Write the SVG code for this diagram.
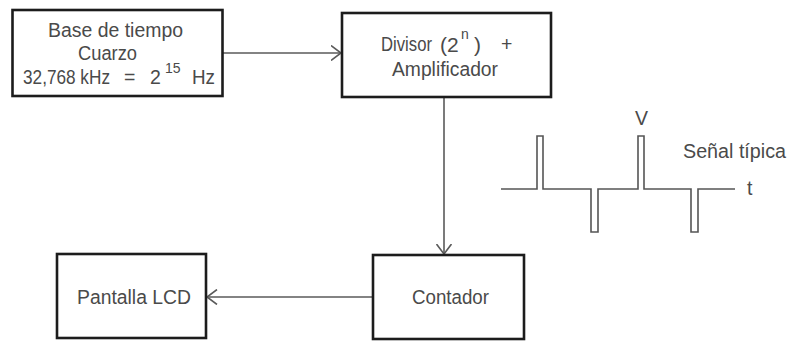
<svg xmlns="http://www.w3.org/2000/svg" width="788" height="341" viewBox="0 0 788 341">
<style>
.box{fill:#fff;stroke:#1c1c1c;stroke-width:2.6}
.t{font-family:"Liberation Sans",Arial,sans-serif;font-size:19.5px;fill:#4a4a4a}
.sup{font-size:14px}
.big{font-size:21px}
.conn{fill:none;stroke:#5a5a5a;stroke-width:1.6}
.sig{fill:none;stroke:#555;stroke-width:1.6}
</style>
<defs>
<marker id="arr" viewBox="0 0 11 16" refX="10.5" refY="8" markerWidth="11" markerHeight="16" markerUnits="userSpaceOnUse" orient="auto">
<path d="M0.5,0.5 L10.5,8 L0.5,15.5" fill="none" stroke="#5a5a5a" stroke-width="1.6"/>
</marker>
</defs>
<rect width="788" height="341" fill="#fff"/>
<g id="connectors">
<line class="conn" x1="223" y1="53" x2="341" y2="53" marker-end="url(#arr)"/>
<line class="conn" x1="444" y1="98" x2="444" y2="254" marker-end="url(#arr)"/>
<line class="conn" x1="372" y1="297" x2="207" y2="297" marker-end="url(#arr)"/>
</g>
<g id="base">
<rect class="box" x="12.5" y="10" width="210" height="86"/>
<text class="t" x="48" y="37" textLength="135" lengthAdjust="spacingAndGlyphs">Base de tiempo</text>
<text class="t" x="78" y="60" textLength="59" lengthAdjust="spacingAndGlyphs">Cuarzo</text>
<text class="t" x="23" y="84" textLength="87" lengthAdjust="spacingAndGlyphs">32,768 kHz</text>
<text class="t" x="124" y="84">=</text>
<text class="t" x="150" y="84">2</text>
<text class="t sup" x="165" y="73">15</text>
<text class="t" x="192" y="84" textLength="23" lengthAdjust="spacingAndGlyphs">Hz</text>
</g>
<g id="divisor">
<rect class="box" x="342" y="13" width="209" height="84"/>
<text class="t" x="381" y="51" textLength="51" lengthAdjust="spacingAndGlyphs">Divisor</text>
<text class="t big" x="440" y="52">(</text>
<text class="t big" x="447" y="52">2</text>
<text class="t sup" x="461" y="39">n</text>
<text class="t big" x="474" y="52">)</text>
<text class="t" x="501" y="51">+</text>
<text class="t" x="392" y="76" textLength="106" lengthAdjust="spacingAndGlyphs">Amplificador</text>
</g>
<g id="contador">
<rect class="box" x="373" y="255" width="151" height="84"/>
<text class="t" x="412" y="304" textLength="77" lengthAdjust="spacingAndGlyphs">Contador</text>
</g>
<g id="pantalla">
<rect class="box" x="57" y="254" width="149" height="84"/>
<text class="t" x="77" y="304" textLength="114" lengthAdjust="spacingAndGlyphs">Pantalla LCD</text>
</g>
<g id="signal">
<path class="sig" d="M501,189 H537 V136 H543 V189 H591 V232 H598 V189 H638 V136 H644 V189 H691 V232 H698 V189 H735"/>
<text class="t" x="641.5" y="125" text-anchor="middle">V</text>
<text class="t" x="683" y="158" textLength="103" lengthAdjust="spacingAndGlyphs">Señal típica</text>
<text class="t" x="747" y="195">t</text>
</g>
</svg>
